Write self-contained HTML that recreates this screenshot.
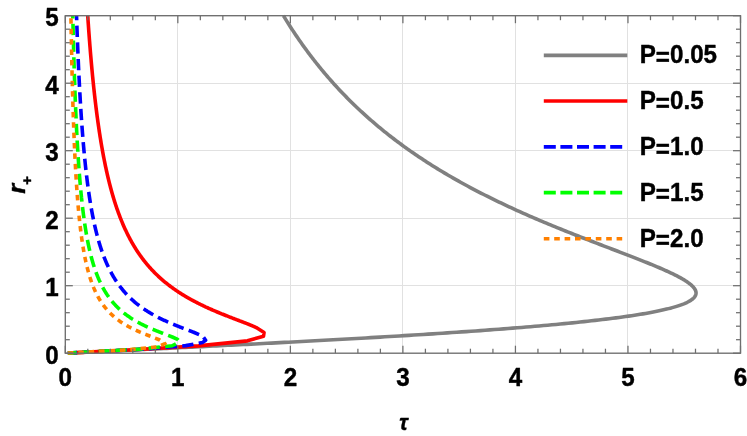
<!DOCTYPE html>
<html><head><meta charset="utf-8"><title>plot</title>
<style>
html,body{margin:0;padding:0;background:#fff;}
body{width:747px;height:436px;overflow:hidden;font-family:"Liberation Sans",sans-serif;}
svg{display:block;will-change:transform;}
text{font-family:"Liberation Sans",sans-serif;font-weight:bold;fill:#000;stroke:#000;stroke-width:0.42px;stroke-linejoin:round;}
</style></head><body>
<svg width="747" height="436" viewBox="0 0 747 436">
<rect x="0" y="0" width="747" height="436" fill="#ffffff"/>
<g stroke="#e1e1e1" stroke-width="1" fill="none"><line x1="177.50" y1="15.70" x2="177.50" y2="353.20"/><line x1="290.50" y1="15.70" x2="290.50" y2="353.20"/><line x1="402.50" y1="15.70" x2="402.50" y2="353.20"/><line x1="515.50" y1="15.70" x2="515.50" y2="353.20"/><line x1="627.50" y1="15.70" x2="627.50" y2="353.20"/><line x1="65.30" y1="285.50" x2="740.50" y2="285.50"/><line x1="65.30" y1="218.50" x2="740.50" y2="218.50"/><line x1="65.30" y1="150.50" x2="740.50" y2="150.50"/><line x1="65.30" y1="83.50" x2="740.50" y2="83.50"/></g>
<g fill="none" stroke-width="3.6" stroke-linejoin="round">
<path d="M283.42,15.70 L284.33,17.18 L285.23,18.66 L286.15,20.14 L287.06,21.61 L287.99,23.08 L288.92,24.54 L289.85,26.00 L290.79,27.46 L291.73,28.92 L292.68,30.37 L293.64,31.81 L294.60,33.26 L295.56,34.70 L296.53,36.13 L297.51,37.57 L298.49,39.00 L299.48,40.42 L300.47,41.84 L301.47,43.26 L302.47,44.68 L303.48,46.09 L304.50,47.50 L305.52,48.90 L306.55,50.30 L307.58,51.70 L308.62,53.10 L309.66,54.49 L310.71,55.87 L311.77,57.26 L312.83,58.64 L313.90,60.01 L314.97,61.39 L316.05,62.76 L317.14,64.12 L318.23,65.48 L319.33,66.84 L320.44,68.20 L321.55,69.55 L322.67,70.90 L323.79,72.24 L324.92,73.59 L326.06,74.92 L327.20,76.26 L328.35,77.59 L329.51,78.92 L330.67,80.24 L331.84,81.56 L333.01,82.88 L334.20,84.19 L335.39,85.50 L336.58,86.81 L337.78,88.11 L338.99,89.41 L340.21,90.70 L341.43,92.00 L342.66,93.29 L343.90,94.57 L345.15,95.85 L346.40,97.13 L347.66,98.41 L348.92,99.68 L350.19,100.95 L351.47,102.21 L352.76,103.47 L354.05,104.73 L355.36,105.99 L356.66,107.24 L357.98,108.48 L359.30,109.73 L360.63,110.97 L361.97,112.20 L363.32,113.44 L364.67,114.67 L366.03,115.89 L367.40,117.12 L368.78,118.34 L370.16,119.55 L371.55,120.77 L372.95,121.98 L374.36,123.18 L375.77,124.38 L377.19,125.58 L378.62,126.78 L380.06,127.97 L381.51,129.16 L382.96,130.35 L384.42,131.53 L385.89,132.71 L387.37,133.88 L388.85,135.05 L390.35,136.22 L391.85,137.39 L393.36,138.55 L394.88,139.70 L396.40,140.86 L397.94,142.01 L399.48,143.16 L401.03,144.30 L402.59,145.44 L404.15,146.58 L405.73,147.71 L407.31,148.85 L408.90,149.97 L410.50,151.10 L412.11,152.22 L413.73,153.33 L415.35,154.45 L416.99,155.56 L418.63,156.66 L420.28,157.77 L421.94,158.87 L423.60,159.96 L425.28,161.06 L426.96,162.15 L428.65,163.23 L430.36,164.32 L432.06,165.40 L433.78,166.47 L435.51,167.55 L437.24,168.62 L438.98,169.68 L440.73,170.75 L442.49,171.80 L444.26,172.86 L446.03,173.91 L447.82,174.96 L449.61,176.01 L451.41,177.05 L453.22,178.09 L455.04,179.13 L456.86,180.16 L458.69,181.19 L460.53,182.22 L462.38,183.24 L464.24,184.26 L466.11,185.27 L467.98,186.29 L469.86,187.29 L471.75,188.30 L473.65,189.30 L475.55,190.30 L477.46,191.30 L479.38,192.29 L481.31,193.28 L483.24,194.27 L485.19,195.25 L487.13,196.23 L489.09,197.20 L491.05,198.18 L493.03,199.15 L495.00,200.11 L496.99,201.07 L498.98,202.03 L500.98,202.99 L502.98,203.94 L504.99,204.89 L507.01,205.84 L509.04,206.78 L511.07,207.72 L513.10,208.66 L515.14,209.59 L517.19,210.52 L519.24,211.44 L521.30,212.37 L523.37,213.29 L525.43,214.20 L527.51,215.12 L529.59,216.03 L531.67,216.93 L533.76,217.84 L535.85,218.74 L537.94,219.63 L540.04,220.53 L542.15,221.42 L544.25,222.30 L546.36,223.19 L548.47,224.07 L550.59,224.94 L552.70,225.82 L554.82,226.69 L556.95,227.56 L559.07,228.42 L561.19,229.28 L563.32,230.14 L565.44,230.99 L567.57,231.84 L569.70,232.69 L571.82,233.54 L573.95,234.38 L576.07,235.22 L578.20,236.05 L580.32,236.88 L582.44,237.71 L584.56,238.53 L586.67,239.36 L588.79,240.18 L590.90,240.99 L593.00,241.80 L595.10,242.61 L597.20,243.42 L599.29,244.22 L601.38,245.02 L603.46,245.82 L605.53,246.61 L607.60,247.40 L609.66,248.19 L611.71,248.97 L613.75,249.75 L615.78,250.53 L617.81,251.30 L619.82,252.07 L621.83,252.84 L623.82,253.60 L625.80,254.36 L627.77,255.12 L629.73,255.87 L631.67,256.63 L633.60,257.37 L635.51,258.12 L637.41,258.86 L639.29,259.60 L641.16,260.34 L643.00,261.07 L644.83,261.80 L646.65,262.52 L648.44,263.25 L650.21,263.97 L651.96,264.68 L653.69,265.40 L655.40,266.11 L657.08,266.81 L658.74,267.52 L660.38,268.22 L661.99,268.92 L663.57,269.61 L665.13,270.30 L666.66,270.99 L668.16,271.67 L669.63,272.36 L671.07,273.04 L672.48,273.71 L673.86,274.38 L675.21,275.05 L676.52,275.72 L677.80,276.38 L679.04,277.04 L680.25,277.70 L681.41,278.35 L682.54,279.00 L683.64,279.65 L684.69,280.30 L685.70,280.94 L686.67,281.58 L687.60,282.21 L688.48,282.84 L689.32,283.47 L690.12,284.10 L690.87,284.72 L691.57,285.34 L692.23,285.96 L692.83,286.57 L693.39,287.18 L693.89,287.79 L694.35,288.40 L694.75,289.00 L695.10,289.60 L695.40,290.19 L695.64,290.78 L695.83,291.37 L695.96,291.96 L696.03,292.54 L696.05,293.12 L696.00,293.70 L695.90,294.27 L695.74,294.84 L695.52,295.41 L695.23,295.98 L694.88,296.54 L694.47,297.10 L694.00,297.65 L693.46,298.21 L692.86,298.76 L692.20,299.30 L691.46,299.85 L690.66,300.39 L689.80,300.92 L688.86,301.46 L687.86,301.99 L686.79,302.52 L685.66,303.04 L684.45,303.57 L683.17,304.09 L681.83,304.60 L680.41,305.12 L678.93,305.63 L677.38,306.14 L675.75,306.64 L674.05,307.14 L672.29,307.64 L670.45,308.14 L668.54,308.63 L666.57,309.12 L664.52,309.61 L662.40,310.09 L660.21,310.57 L657.95,311.05 L655.62,311.52 L653.22,312.00 L650.76,312.47 L648.22,312.93 L645.62,313.40 L642.94,313.86 L640.20,314.31 L637.40,314.77 L634.52,315.22 L631.58,315.67 L628.58,316.11 L625.51,316.56 L622.38,317.00 L619.18,317.43 L615.92,317.87 L612.60,318.30 L609.22,318.73 L605.78,319.15 L602.28,319.58 L598.72,320.00 L595.11,320.41 L591.44,320.83 L587.71,321.24 L583.93,321.65 L580.10,322.05 L576.22,322.45 L572.29,322.85 L568.31,323.25 L564.28,323.64 L560.20,324.04 L556.08,324.42 L551.91,324.81 L547.71,325.19 L543.46,325.57 L539.17,325.95 L534.84,326.32 L530.48,326.69 L526.08,327.06 L521.64,327.43 L517.18,327.79 L512.68,328.15 L508.15,328.51 L503.60,328.86 L499.02,329.21 L494.41,329.56 L489.78,329.91 L485.12,330.25 L480.45,330.59 L475.75,330.93 L471.04,331.26 L466.32,331.59 L461.57,331.92 L456.82,332.25 L452.05,332.57 L447.27,332.89 L442.49,333.21 L437.69,333.53 L432.89,333.84 L428.09,334.15 L423.28,334.46 L418.47,334.76 L413.67,335.06 L408.86,335.36 L404.06,335.66 L399.26,335.95 L394.46,336.24 L389.67,336.53 L384.89,336.82 L380.12,337.10 L375.36,337.38 L370.62,337.66 L365.88,337.93 L361.16,338.20 L356.46,338.47 L351.77,338.74 L347.10,339.00 L342.45,339.26 L337.82,339.52 L333.21,339.78 L328.62,340.03 L324.06,340.28 L319.52,340.53 L315.01,340.77 L310.52,341.02 L306.06,341.26 L301.63,341.49 L297.23,341.73 L292.86,341.96 L288.51,342.19 L284.20,342.42 L279.93,342.64 L275.68,342.86 L271.47,343.08 L267.30,343.30 L263.16,343.51 L259.05,343.72 L254.98,343.93 L250.95,344.14 L246.96,344.34 L243.01,344.54 L239.09,344.74 L235.22,344.94 L231.38,345.13 L227.59,345.32 L223.83,345.51 L220.12,345.70 L216.45,345.88 L212.82,346.06 L209.24,346.24 L205.69,346.41 L202.20,346.59 L198.74,346.76 L195.33,346.93 L191.96,347.09 L188.64,347.26 L185.36,347.42 L182.13,347.57 L178.94,347.73 L175.80,347.88 L172.71,348.04 L169.66,348.18 L166.65,348.33 L163.70,348.47 L160.79,348.62 L157.92,348.75 L155.10,348.89 L152.33,349.03 L149.61,349.16 L146.93,349.29 L144.30,349.41 L141.71,349.54 L139.18,349.66 L136.69,349.78 L134.24,349.90 L131.85,350.01 L129.50,350.13 L127.19,350.24 L124.94,350.35 L122.73,350.45 L120.56,350.56 L118.45,350.66 L116.38,350.76 L114.35,350.85 L112.38,350.95 L110.45,351.04 L108.56,351.13 L106.72,351.22 L104.93,351.31 L103.18,351.39 L101.48,351.47 L99.82,351.55 L98.21,351.63 L96.65,351.70 L95.12,351.78 L93.65,351.85 L92.22,351.91 L90.83,351.98 L89.49,352.05 L88.19,352.11 L86.93,352.17 L85.72,352.23 L84.55,352.28 L83.42,352.33 L82.34,352.39 L81.30,352.44 L80.30,352.48 L79.34,352.53 L78.42,352.57 L77.55,352.62 L76.72,352.66 L75.92,352.69 L75.17,352.73 L74.46,352.76 L73.79,352.79 L73.15,352.83 L72.56,352.85 L72.00,352.88 L71.48,352.90 L71.00,352.93 L70.56,352.95 L70.15,352.97 L69.78,352.99 L69.44,353.00 L69.14,353.02 L68.87,353.03 L68.64,353.04 L68.44,353.05 L68.27,353.06 L68.13,353.07 L68.02,353.07 L67.94,353.07 L67.88,353.08 L67.85,353.08 L67.85,353.08" stroke="#808080"/>
<path d="M87.74,15.70 L87.83,17.07 L87.92,18.44 L88.01,19.80 L88.10,21.16 L88.19,22.52 L88.29,23.87 L88.38,25.22 L88.48,26.57 L88.57,27.92 L88.67,29.26 L88.76,30.59 L88.86,31.93 L88.96,33.26 L89.06,34.59 L89.15,35.91 L89.25,37.23 L89.35,38.55 L89.45,39.87 L89.55,41.18 L89.66,42.49 L89.76,43.79 L89.86,45.09 L89.96,46.39 L90.07,47.69 L90.17,48.98 L90.28,50.27 L90.38,51.55 L90.49,52.83 L90.59,54.11 L90.70,55.39 L90.81,56.66 L90.92,57.93 L91.03,59.20 L91.14,60.46 L91.25,61.72 L91.36,62.97 L91.47,64.23 L91.59,65.48 L91.70,66.72 L91.81,67.97 L91.93,69.21 L92.04,70.44 L92.16,71.68 L92.28,72.91 L92.39,74.13 L92.51,75.36 L92.63,76.58 L92.75,77.79 L92.87,79.01 L92.99,80.22 L93.11,81.43 L93.24,82.63 L93.36,83.83 L93.48,85.03 L93.61,86.22 L93.73,87.42 L93.86,88.60 L93.99,89.79 L94.12,90.97 L94.24,92.15 L94.37,93.32 L94.50,94.50 L94.63,95.67 L94.77,96.83 L94.90,97.99 L95.03,99.15 L95.17,100.31 L95.30,101.46 L95.44,102.61 L95.58,103.76 L95.71,104.90 L95.85,106.04 L95.99,107.18 L96.13,108.31 L96.27,109.44 L96.42,110.57 L96.56,111.70 L96.70,112.82 L96.85,113.93 L96.99,115.05 L97.14,116.16 L97.29,117.27 L97.44,118.37 L97.59,119.48 L97.74,120.58 L97.89,121.67 L98.04,122.76 L98.19,123.85 L98.35,124.94 L98.50,126.02 L98.66,127.10 L98.82,128.18 L98.98,129.25 L99.13,130.32 L99.29,131.39 L99.46,132.45 L99.62,133.51 L99.78,134.57 L99.95,135.63 L100.11,136.68 L100.28,137.73 L100.45,138.77 L100.62,139.81 L100.79,140.85 L100.96,141.89 L101.13,142.92 L101.30,143.95 L101.48,144.98 L101.65,146.00 L101.83,147.02 L102.01,148.03 L102.19,149.05 L102.37,150.06 L102.55,151.07 L102.73,152.07 L102.92,153.07 L103.10,154.07 L103.29,155.07 L103.47,156.06 L103.66,157.05 L103.85,158.03 L104.04,159.01 L104.24,159.99 L104.43,160.97 L104.63,161.94 L104.82,162.91 L105.02,163.88 L105.22,164.84 L105.42,165.80 L105.62,166.76 L105.83,167.72 L106.03,168.67 L106.24,169.62 L106.44,170.56 L106.65,171.50 L106.86,172.44 L107.07,173.38 L107.29,174.31 L107.50,175.24 L107.72,176.17 L107.93,177.09 L108.15,178.01 L108.37,178.93 L108.59,179.84 L108.82,180.75 L109.04,181.66 L109.27,182.57 L109.50,183.47 L109.73,184.37 L109.96,185.26 L110.19,186.16 L110.42,187.05 L110.66,187.93 L110.90,188.82 L111.14,189.70 L111.38,190.58 L111.62,191.45 L111.86,192.32 L112.11,193.19 L112.36,194.05 L112.61,194.92 L112.86,195.78 L113.11,196.63 L113.36,197.49 L113.62,198.34 L113.88,199.18 L114.14,200.03 L114.40,200.87 L114.66,201.71 L114.93,202.54 L115.19,203.37 L115.46,204.20 L115.73,205.03 L116.00,205.85 L116.28,206.67 L116.55,207.49 L116.83,208.30 L117.11,209.11 L117.39,209.92 L117.68,210.72 L117.96,211.53 L118.25,212.32 L118.54,213.12 L118.83,213.91 L119.13,214.70 L119.42,215.49 L119.72,216.27 L120.02,217.05 L120.32,217.83 L120.63,218.60 L120.94,219.38 L121.24,220.15 L121.55,220.91 L121.87,221.67 L122.18,222.43 L122.50,223.19 L122.82,223.94 L123.14,224.69 L123.46,225.44 L123.79,226.19 L124.12,226.93 L124.45,227.67 L124.78,228.40 L125.12,229.14 L125.46,229.87 L125.80,230.59 L126.14,231.32 L126.48,232.04 L126.83,232.76 L127.18,233.47 L127.53,234.18 L127.88,234.89 L128.24,235.60 L128.60,236.30 L128.96,237.00 L129.33,237.70 L129.69,238.40 L130.06,239.09 L130.43,239.78 L130.81,240.46 L131.19,241.14 L131.56,241.82 L131.95,242.50 L132.33,243.18 L132.72,243.85 L133.11,244.51 L133.50,245.18 L133.90,245.84 L134.29,246.50 L134.69,247.16 L135.10,247.81 L135.50,248.46 L135.91,249.11 L136.32,249.76 L136.74,250.40 L137.16,251.04 L137.57,251.67 L138.00,252.31 L138.42,252.94 L138.85,253.56 L139.28,254.19 L139.72,254.81 L140.15,255.43 L140.59,256.04 L141.03,256.66 L141.48,257.27 L141.93,257.88 L142.38,258.48 L142.83,259.08 L143.29,259.68 L143.75,260.28 L144.21,260.87 L144.68,261.46 L145.15,262.05 L145.62,262.63 L146.09,263.21 L146.57,263.79 L147.05,264.37 L147.54,264.94 L148.02,265.51 L148.51,266.08 L149.00,266.64 L149.50,267.20 L150.00,267.76 L150.50,268.32 L151.01,268.87 L151.51,269.42 L152.02,269.97 L152.54,270.51 L153.05,271.05 L153.57,271.59 L154.10,272.13 L154.62,272.66 L155.15,273.19 L155.68,273.72 L156.22,274.25 L156.76,274.77 L157.30,275.29 L157.84,275.80 L158.39,276.32 L158.94,276.83 L159.49,277.34 L160.05,277.84 L160.61,278.34 L161.17,278.84 L161.74,279.34 L162.30,279.84 L162.87,280.33 L163.45,280.82 L164.02,281.30 L164.60,281.78 L165.19,282.27 L165.77,282.74 L166.36,283.22 L166.95,283.69 L167.54,284.16 L168.14,284.63 L168.74,285.09 L169.34,285.55 L169.95,286.01 L170.55,286.46 L171.16,286.92 L171.78,287.37 L172.39,287.81 L173.01,288.26 L173.63,288.70 L174.25,289.14 L174.88,289.58 L175.50,290.01 L176.13,290.44 L176.77,290.87 L177.40,291.30 L178.04,291.72 L178.67,292.14 L179.32,292.56 L179.96,292.97 L180.60,293.38 L181.25,293.79 L181.90,294.20 L182.55,294.60 L183.20,295.00 L183.86,295.40 L184.51,295.80 L185.17,296.19 L185.83,296.58 L186.49,296.97 L187.16,297.36 L187.82,297.74 L188.48,298.12 L189.15,298.50 L189.82,298.87 L190.49,299.24 L191.16,299.61 L191.83,299.98 L192.50,300.34 L193.17,300.70 L193.85,301.06 L194.52,301.42 L195.20,301.77 L195.87,302.12 L196.55,302.47 L197.22,302.82 L197.90,303.16 L198.58,303.50 L199.25,303.84 L199.93,304.17 L200.61,304.51 L201.28,304.84 L201.96,305.16 L202.64,305.49 L203.31,305.81 L203.99,306.13 L204.66,306.45 L205.33,306.76 L206.00,307.08 L206.68,307.38 L207.35,307.69 L208.01,308.00 L208.68,308.30 L209.35,308.60 L210.01,308.89 L210.68,309.19 L211.34,309.48 L212.00,309.77 L212.65,310.05 L213.31,310.34 L213.96,310.62 L214.61,310.90 L215.26,311.17 L215.91,311.45 L216.55,311.72 L217.19,311.99 L217.83,312.25 L218.46,312.52 L219.09,312.78 L219.72,313.04 L220.35,313.29 L220.97,313.55 L221.59,313.80 L222.20,314.05 L222.81,314.29 L223.42,314.54 L224.02,314.78 L224.62,315.02 L225.21,315.25 L225.80,315.49 L226.39,315.72 L226.97,315.95 L227.55,316.18 L228.12,316.40 L228.69,316.62 L229.25,316.84 L229.81,317.06 L230.36,317.27 L230.91,317.48 L231.45,317.69 L231.99,317.90 L232.52,318.11 L233.05,318.31 L233.57,318.51 L234.08,318.71 L234.59,318.90 L235.10,319.10 L235.59,319.29 L236.09,319.47 L236.57,319.66 L237.05,319.84 L237.53,320.02 L238.00,320.20 L238.46,320.38 L238.91,320.55 L239.36,320.73 L239.81,320.89 L240.24,321.06 L240.67,321.23 L241.10,321.39 L241.52,321.55 L241.93,321.71 L242.33,321.86 L242.73,322.02 L243.12,322.17 L243.51,322.32 L243.89,322.46 L244.26,322.61 L244.63,322.75 L244.99,322.89 L245.34,323.03 L245.69,323.16 L246.03,323.29 L246.36,323.42 L246.69,323.55 L247.01,323.68 L247.33,323.80 L247.63,323.93 L247.94,324.05 L248.23,324.16 L248.52,324.28 L248.80,324.39 L249.08,324.50 L249.35,324.61 L249.62,324.72 L249.87,324.82 L250.13,324.92 L250.37,325.03 L250.61,325.12 L250.85,325.22 L251.07,325.31 L251.30,325.41 L251.51,325.49 L251.72,325.58 L251.93,325.67 L252.13,325.75 L252.32,325.83 L252.51,325.91 L252.69,325.99 L252.87,326.06 L253.04,326.14 L253.21,326.21 L253.37,326.28 L253.53,326.35 L253.68,326.41 L253.82,326.47 L253.96,326.54 L254.10,326.59 L254.23,326.65 L254.36,326.71 L254.48,326.76 L254.60,326.81 L254.71,326.86 L254.82,326.91 L254.92,326.96 L255.02,327.00 L255.11,327.04 L255.20,327.08 L255.29,327.12 L255.37,327.16 L255.45,327.19 L255.52,327.23 L255.59,327.26 L255.65,327.29 L255.72,327.32 L255.77,327.34 L255.83,327.37 L255.88,327.39 L255.92,327.41 L255.97,327.43 L256.00,327.45 L256.04,327.46 L256.07,327.48 L256.10,327.49 L256.13,327.50 L256.15,327.52 L256.17,327.52 L256.18,327.53 L256.20,327.54 L256.21,327.54 L256.22,327.55 L256.22,327.55 L256.22,327.55 L256.22,327.55 L264.05,332.48 L263.50,336.19 L247.44,340.85 L198.50,345.91 L133.85,349.82 L67.85,353.08" stroke="#ff0000"/>
<path d="M76.54,15.70 L76.58,17.09 L76.63,18.48 L76.68,19.86 L76.72,21.24 L76.77,22.62 L76.82,24.00 L76.87,25.37 L76.91,26.74 L76.96,28.10 L77.01,29.46 L77.06,30.82 L77.11,32.17 L77.16,33.53 L77.21,34.87 L77.26,36.22 L77.31,37.56 L77.36,38.90 L77.41,40.23 L77.46,41.56 L77.52,42.89 L77.57,44.22 L77.62,45.54 L77.67,46.86 L77.73,48.17 L77.78,49.48 L77.83,50.79 L77.89,52.10 L77.94,53.40 L78.00,54.69 L78.05,55.99 L78.11,57.28 L78.16,58.57 L78.22,59.85 L78.28,61.14 L78.33,62.41 L78.39,63.69 L78.45,64.96 L78.51,66.23 L78.56,67.50 L78.62,68.76 L78.68,70.02 L78.74,71.27 L78.80,72.52 L78.86,73.77 L78.92,75.02 L78.98,76.26 L79.04,77.50 L79.10,78.73 L79.17,79.97 L79.23,81.20 L79.29,82.42 L79.35,83.64 L79.42,84.86 L79.48,86.08 L79.55,87.29 L79.61,88.50 L79.68,89.71 L79.74,90.91 L79.81,92.11 L79.87,93.31 L79.94,94.50 L80.01,95.69 L80.08,96.88 L80.14,98.06 L80.21,99.24 L80.28,100.42 L80.35,101.59 L80.42,102.76 L80.49,103.93 L80.56,105.09 L80.63,106.25 L80.71,107.41 L80.78,108.57 L80.85,109.72 L80.92,110.86 L81.00,112.01 L81.07,113.15 L81.15,114.29 L81.22,115.42 L81.30,116.55 L81.37,117.68 L81.45,118.81 L81.53,119.93 L81.61,121.05 L81.68,122.16 L81.76,123.28 L81.84,124.39 L81.92,125.49 L82.00,126.59 L82.08,127.69 L82.16,128.79 L82.25,129.88 L82.33,130.97 L82.41,132.06 L82.49,133.14 L82.58,134.22 L82.66,135.30 L82.75,136.37 L82.83,137.44 L82.92,138.51 L83.01,139.57 L83.10,140.64 L83.18,141.69 L83.27,142.75 L83.36,143.80 L83.45,144.85 L83.54,145.89 L83.63,146.93 L83.73,147.97 L83.82,149.01 L83.91,150.04 L84.01,151.07 L84.10,152.09 L84.20,153.12 L84.29,154.14 L84.39,155.15 L84.49,156.17 L84.58,157.18 L84.68,158.18 L84.78,159.19 L84.88,160.19 L84.98,161.19 L85.08,162.18 L85.19,163.17 L85.29,164.16 L85.39,165.14 L85.50,166.12 L85.60,167.10 L85.71,168.08 L85.81,169.05 L85.92,170.02 L86.03,170.98 L86.14,171.95 L86.25,172.91 L86.36,173.86 L86.47,174.82 L86.58,175.77 L86.70,176.71 L86.81,177.66 L86.92,178.60 L87.04,179.54 L87.16,180.47 L87.27,181.40 L87.39,182.33 L87.51,183.25 L87.63,184.18 L87.75,185.10 L87.87,186.01 L87.99,186.92 L88.12,187.83 L88.24,188.74 L88.36,189.64 L88.49,190.54 L88.62,191.44 L88.75,192.33 L88.87,193.22 L89.00,194.11 L89.13,195.00 L89.27,195.88 L89.40,196.76 L89.53,197.63 L89.67,198.50 L89.80,199.37 L89.94,200.24 L90.08,201.10 L90.22,201.96 L90.36,202.82 L90.50,203.67 L90.64,204.52 L90.78,205.37 L90.92,206.22 L91.07,207.06 L91.22,207.90 L91.36,208.73 L91.51,209.56 L91.66,210.39 L91.81,211.22 L91.96,212.04 L92.12,212.86 L92.27,213.68 L92.43,214.49 L92.58,215.30 L92.74,216.11 L92.90,216.92 L93.06,217.72 L93.22,218.52 L93.38,219.31 L93.55,220.10 L93.71,220.89 L93.88,221.68 L94.05,222.46 L94.21,223.24 L94.38,224.02 L94.56,224.79 L94.73,225.57 L94.90,226.33 L95.08,227.10 L95.26,227.86 L95.43,228.62 L95.61,229.38 L95.80,230.13 L95.98,230.88 L96.16,231.63 L96.35,232.37 L96.53,233.11 L96.72,233.85 L96.91,234.58 L97.10,235.32 L97.30,236.05 L97.49,236.77 L97.69,237.49 L97.88,238.21 L98.08,238.93 L98.28,239.65 L98.48,240.36 L98.69,241.06 L98.89,241.77 L99.10,242.47 L99.31,243.17 L99.52,243.87 L99.73,244.56 L99.94,245.25 L100.16,245.94 L100.38,246.62 L100.59,247.30 L100.81,247.98 L101.04,248.66 L101.26,249.33 L101.49,250.00 L101.71,250.67 L101.94,251.33 L102.17,251.99 L102.41,252.65 L102.64,253.30 L102.88,253.95 L103.11,254.60 L103.35,255.25 L103.60,255.89 L103.84,256.53 L104.09,257.17 L104.33,257.80 L104.58,258.43 L104.84,259.06 L105.09,259.69 L105.35,260.31 L105.60,260.93 L105.86,261.54 L106.12,262.16 L106.39,262.77 L106.65,263.38 L106.92,263.98 L107.19,264.58 L107.46,265.18 L107.74,265.78 L108.01,266.37 L108.29,266.96 L108.57,267.55 L108.86,268.13 L109.14,268.72 L109.43,269.29 L109.72,269.87 L110.01,270.44 L110.30,271.01 L110.60,271.58 L110.90,272.14 L111.20,272.71 L111.50,273.26 L111.81,273.82 L112.12,274.37 L112.43,274.92 L112.74,275.47 L113.05,276.02 L113.37,276.56 L113.69,277.10 L114.01,277.63 L114.34,278.16 L114.66,278.69 L114.99,279.22 L115.32,279.75 L115.66,280.27 L116.00,280.79 L116.33,281.30 L116.68,281.81 L117.02,282.32 L117.37,282.83 L117.72,283.34 L118.07,283.84 L118.42,284.34 L118.78,284.83 L119.14,285.33 L119.50,285.82 L119.86,286.30 L120.23,286.79 L120.60,287.27 L120.97,287.75 L121.35,288.23 L121.73,288.70 L122.11,289.17 L122.49,289.64 L122.87,290.10 L123.26,290.57 L123.65,291.03 L124.04,291.48 L124.44,291.94 L124.84,292.39 L125.24,292.84 L125.64,293.28 L126.05,293.73 L126.46,294.17 L126.87,294.60 L127.28,295.04 L127.70,295.47 L128.12,295.90 L128.54,296.33 L128.96,296.75 L129.39,297.17 L129.82,297.59 L130.25,298.01 L130.68,298.42 L131.12,298.83 L131.56,299.24 L132.00,299.64 L132.44,300.04 L132.89,300.44 L133.34,300.84 L133.79,301.23 L134.24,301.62 L134.70,302.01 L135.15,302.40 L135.61,302.78 L136.08,303.16 L136.54,303.54 L137.01,303.91 L137.48,304.29 L137.95,304.66 L138.42,305.02 L138.90,305.39 L139.38,305.75 L139.86,306.11 L140.34,306.46 L140.82,306.82 L141.31,307.17 L141.79,307.52 L142.28,307.86 L142.77,308.21 L143.26,308.55 L143.76,308.88 L144.25,309.22 L144.75,309.55 L145.25,309.88 L145.75,310.21 L146.25,310.53 L146.75,310.85 L147.26,311.17 L147.76,311.49 L148.27,311.80 L148.78,312.12 L149.29,312.42 L149.80,312.73 L150.31,313.03 L150.82,313.34 L151.33,313.63 L151.84,313.93 L152.35,314.22 L152.87,314.51 L153.38,314.80 L153.89,315.09 L154.41,315.37 L154.92,315.65 L155.44,315.93 L155.95,316.20 L156.47,316.48 L156.98,316.75 L157.50,317.01 L158.01,317.28 L158.52,317.54 L159.03,317.80 L159.55,318.06 L160.06,318.32 L160.57,318.57 L161.08,318.82 L161.59,319.07 L162.09,319.31 L162.60,319.55 L163.10,319.79 L163.61,320.03 L164.11,320.27 L164.61,320.50 L165.10,320.73 L165.60,320.96 L166.09,321.18 L166.59,321.40 L167.08,321.62 L167.56,321.84 L168.05,322.06 L168.53,322.27 L169.01,322.48 L169.49,322.69 L169.96,322.89 L170.43,323.10 L170.90,323.30 L171.37,323.50 L171.83,323.69 L172.29,323.89 L172.75,324.08 L173.20,324.27 L173.65,324.45 L174.09,324.64 L174.53,324.82 L174.97,325.00 L175.40,325.17 L175.83,325.35 L176.25,325.52 L176.68,325.69 L177.09,325.86 L177.50,326.02 L177.91,326.18 L178.31,326.34 L178.71,326.50 L179.11,326.66 L179.49,326.81 L179.88,326.96 L180.26,327.11 L180.63,327.26 L181.00,327.40 L181.37,327.54 L181.72,327.68 L182.08,327.82 L182.43,327.95 L182.77,328.09 L183.11,328.22 L183.44,328.35 L183.77,328.47 L184.09,328.60 L184.41,328.72 L184.72,328.84 L185.02,328.95 L185.32,329.07 L185.62,329.18 L185.91,329.29 L186.19,329.40 L186.47,329.51 L186.74,329.61 L187.01,329.71 L187.27,329.81 L187.52,329.91 L187.77,330.00 L188.02,330.10 L188.25,330.19 L188.49,330.28 L188.71,330.36 L188.94,330.45 L189.15,330.53 L189.36,330.61 L189.57,330.69 L189.77,330.77 L189.96,330.84 L190.15,330.91 L190.33,330.98 L190.51,331.05 L190.68,331.12 L190.85,331.18 L191.01,331.25 L191.17,331.31 L191.32,331.36 L191.46,331.42 L191.60,331.47 L191.74,331.53 L191.87,331.58 L192.00,331.63 L192.12,331.67 L192.23,331.72 L192.34,331.76 L192.45,331.80 L192.55,331.84 L192.64,331.88 L192.74,331.91 L192.82,331.95 L192.90,331.98 L192.98,332.01 L193.05,332.04 L193.12,332.06 L193.19,332.09 L193.25,332.11 L193.30,332.13 L193.35,332.15 L193.40,332.17 L193.44,332.19 L193.48,332.20 L193.51,332.22 L193.54,332.23 L193.57,332.24 L193.59,332.25 L193.61,332.26 L193.63,332.26 L193.64,332.27 L193.65,332.27 L193.66,332.27 L193.66,332.27 L193.66,332.27 L202.82,336.32 L205.63,340.24 L202.39,342.60 L185.72,345.64 L143.11,349.15 L67.85,353.08" stroke="#0000ff" stroke-dasharray="11.3 5.37" stroke-dashoffset="6.7"/>
<path d="M72.79,15.70 L72.83,17.09 L72.86,18.49 L72.89,19.87 L72.92,21.26 L72.95,22.64 L72.98,24.02 L73.02,25.39 L73.05,26.76 L73.08,28.13 L73.11,29.49 L73.15,30.85 L73.18,32.21 L73.21,33.56 L73.25,34.91 L73.28,36.26 L73.31,37.61 L73.35,38.95 L73.38,40.28 L73.42,41.62 L73.45,42.95 L73.49,44.28 L73.52,45.60 L73.56,46.92 L73.59,48.24 L73.63,49.55 L73.66,50.87 L73.70,52.17 L73.74,53.48 L73.77,54.78 L73.81,56.08 L73.85,57.37 L73.88,58.66 L73.92,59.95 L73.96,61.23 L74.00,62.51 L74.04,63.79 L74.07,65.07 L74.11,66.34 L74.15,67.61 L74.19,68.87 L74.23,70.13 L74.27,71.39 L74.31,72.64 L74.35,73.90 L74.39,75.14 L74.43,76.39 L74.47,77.63 L74.51,78.87 L74.56,80.10 L74.60,81.34 L74.64,82.56 L74.68,83.79 L74.73,85.01 L74.77,86.23 L74.81,87.45 L74.85,88.66 L74.90,89.87 L74.94,91.07 L74.99,92.27 L75.03,93.47 L75.08,94.67 L75.12,95.86 L75.17,97.05 L75.21,98.24 L75.26,99.42 L75.30,100.60 L75.35,101.77 L75.40,102.95 L75.45,104.12 L75.49,105.28 L75.54,106.45 L75.59,107.61 L75.64,108.76 L75.69,109.92 L75.74,111.07 L75.79,112.21 L75.83,113.36 L75.88,114.50 L75.94,115.64 L75.99,116.77 L76.04,117.90 L76.09,119.03 L76.14,120.15 L76.19,121.27 L76.25,122.39 L76.30,123.51 L76.35,124.62 L76.40,125.73 L76.46,126.83 L76.51,127.93 L76.57,129.03 L76.62,130.13 L76.68,131.22 L76.73,132.31 L76.79,133.39 L76.85,134.47 L76.90,135.55 L76.96,136.63 L77.02,137.70 L77.08,138.77 L77.14,139.84 L77.19,140.90 L77.25,141.96 L77.31,143.02 L77.37,144.07 L77.43,145.12 L77.50,146.17 L77.56,147.21 L77.62,148.25 L77.68,149.29 L77.74,150.33 L77.81,151.36 L77.87,152.39 L77.94,153.41 L78.00,154.43 L78.06,155.45 L78.13,156.47 L78.20,157.48 L78.26,158.49 L78.33,159.49 L78.40,160.50 L78.46,161.50 L78.53,162.49 L78.60,163.48 L78.67,164.47 L78.74,165.46 L78.81,166.45 L78.88,167.43 L78.95,168.40 L79.03,169.38 L79.10,170.35 L79.17,171.32 L79.24,172.28 L79.32,173.24 L79.39,174.20 L79.47,175.16 L79.54,176.11 L79.62,177.06 L79.70,178.00 L79.77,178.95 L79.85,179.89 L79.93,180.82 L80.01,181.75 L80.09,182.69 L80.17,183.61 L80.25,184.54 L80.33,185.46 L80.41,186.37 L80.49,187.29 L80.58,188.20 L80.66,189.11 L80.75,190.01 L80.83,190.92 L80.92,191.81 L81.00,192.71 L81.09,193.60 L81.18,194.49 L81.27,195.38 L81.36,196.26 L81.44,197.14 L81.54,198.02 L81.63,198.89 L81.72,199.77 L81.81,200.63 L81.90,201.50 L82.00,202.36 L82.09,203.22 L82.19,204.07 L82.28,204.93 L82.38,205.78 L82.48,206.62 L82.58,207.47 L82.67,208.31 L82.77,209.14 L82.88,209.98 L82.98,210.81 L83.08,211.64 L83.18,212.46 L83.29,213.28 L83.39,214.10 L83.50,214.92 L83.60,215.73 L83.71,216.54 L83.82,217.34 L83.92,218.15 L84.03,218.95 L84.14,219.75 L84.26,220.54 L84.37,221.33 L84.48,222.12 L84.60,222.90 L84.71,223.69 L84.83,224.46 L84.94,225.24 L85.06,226.01 L85.18,226.78 L85.30,227.55 L85.42,228.31 L85.54,229.07 L85.66,229.83 L85.79,230.59 L85.91,231.34 L86.04,232.09 L86.16,232.83 L86.29,233.58 L86.42,234.31 L86.55,235.05 L86.68,235.78 L86.81,236.52 L86.94,237.24 L87.07,237.97 L87.21,238.69 L87.35,239.41 L87.48,240.12 L87.62,240.84 L87.76,241.55 L87.90,242.25 L88.04,242.96 L88.18,243.66 L88.33,244.35 L88.47,245.05 L88.62,245.74 L88.77,246.43 L88.91,247.11 L89.06,247.80 L89.21,248.48 L89.37,249.15 L89.52,249.83 L89.67,250.50 L89.83,251.17 L89.99,251.83 L90.15,252.49 L90.31,253.15 L90.47,253.81 L90.63,254.46 L90.79,255.11 L90.96,255.76 L91.12,256.40 L91.29,257.04 L91.46,257.68 L91.63,258.32 L91.80,258.95 L91.98,259.58 L92.15,260.21 L92.33,260.83 L92.51,261.45 L92.69,262.07 L92.87,262.68 L93.05,263.30 L93.23,263.90 L93.42,264.51 L93.60,265.11 L93.79,265.71 L93.98,266.31 L94.17,266.91 L94.37,267.50 L94.56,268.09 L94.76,268.67 L94.95,269.26 L95.15,269.84 L95.35,270.41 L95.56,270.99 L95.76,271.56 L95.97,272.13 L96.17,272.69 L96.38,273.25 L96.59,273.81 L96.81,274.37 L97.02,274.93 L97.24,275.48 L97.46,276.02 L97.68,276.57 L97.90,277.11 L98.12,277.65 L98.35,278.19 L98.57,278.72 L98.80,279.25 L99.03,279.78 L99.26,280.31 L99.50,280.83 L99.73,281.35 L99.97,281.87 L100.21,282.38 L100.45,282.89 L100.70,283.40 L100.94,283.91 L101.19,284.41 L101.44,284.91 L101.69,285.41 L101.95,285.90 L102.20,286.39 L102.46,286.88 L102.72,287.37 L102.98,287.85 L103.24,288.33 L103.51,288.81 L103.78,289.28 L104.04,289.75 L104.32,290.22 L104.59,290.69 L104.87,291.15 L105.14,291.61 L105.42,292.07 L105.71,292.53 L105.99,292.98 L106.28,293.43 L106.56,293.88 L106.85,294.32 L107.15,294.76 L107.44,295.20 L107.74,295.63 L108.04,296.07 L108.34,296.50 L108.64,296.93 L108.94,297.35 L109.25,297.77 L109.56,298.19 L109.87,298.61 L110.19,299.02 L110.50,299.43 L110.82,299.84 L111.14,300.25 L111.46,300.65 L111.79,301.05 L112.11,301.45 L112.44,301.84 L112.77,302.23 L113.10,302.62 L113.44,303.01 L113.77,303.39 L114.11,303.77 L114.45,304.15 L114.80,304.53 L115.14,304.90 L115.49,305.27 L115.84,305.64 L116.19,306.00 L116.54,306.37 L116.90,306.73 L117.25,307.08 L117.61,307.44 L117.97,307.79 L118.33,308.14 L118.70,308.49 L119.06,308.83 L119.43,309.17 L119.80,309.51 L120.17,309.84 L120.55,310.18 L120.92,310.51 L121.30,310.84 L121.67,311.16 L122.05,311.48 L122.43,311.80 L122.82,312.12 L123.20,312.44 L123.59,312.75 L123.97,313.06 L124.36,313.36 L124.75,313.67 L125.14,313.97 L125.53,314.27 L125.93,314.57 L126.32,314.86 L126.72,315.15 L127.11,315.44 L127.51,315.73 L127.91,316.01 L128.31,316.29 L128.71,316.57 L129.11,316.84 L129.51,317.12 L129.92,317.39 L130.32,317.66 L130.72,317.92 L131.13,318.19 L131.53,318.45 L131.93,318.71 L132.34,318.96 L132.74,319.21 L133.15,319.46 L133.55,319.71 L133.96,319.96 L134.36,320.20 L134.77,320.44 L135.17,320.68 L135.58,320.92 L135.98,321.15 L136.39,321.38 L136.79,321.61 L137.19,321.83 L137.59,322.06 L137.99,322.28 L138.39,322.49 L138.79,322.71 L139.19,322.92 L139.58,323.13 L139.98,323.34 L140.37,323.55 L140.77,323.75 L141.16,323.95 L141.55,324.15 L141.93,324.35 L142.32,324.54 L142.70,324.73 L143.09,324.92 L143.47,325.11 L143.84,325.29 L144.22,325.48 L144.59,325.66 L144.96,325.83 L145.33,326.01 L145.70,326.18 L146.06,326.35 L146.42,326.52 L146.78,326.68 L147.14,326.85 L147.49,327.01 L147.84,327.16 L148.18,327.32 L148.52,327.47 L148.86,327.63 L149.20,327.77 L149.53,327.92 L149.86,328.07 L150.19,328.21 L150.51,328.35 L150.83,328.49 L151.14,328.62 L151.45,328.75 L151.76,328.88 L152.06,329.01 L152.36,329.14 L152.65,329.26 L152.94,329.38 L153.23,329.50 L153.51,329.62 L153.79,329.74 L154.06,329.85 L154.33,329.96 L154.59,330.07 L154.85,330.18 L155.11,330.28 L155.36,330.38 L155.60,330.48 L155.85,330.58 L156.08,330.67 L156.31,330.77 L156.54,330.86 L156.76,330.95 L156.98,331.04 L157.19,331.12 L157.40,331.20 L157.61,331.28 L157.80,331.36 L158.00,331.44 L158.19,331.51 L158.37,331.59 L158.55,331.66 L158.72,331.72 L158.89,331.79 L159.05,331.86 L159.21,331.92 L159.37,331.98 L159.52,332.04 L159.66,332.09 L159.80,332.15 L159.94,332.20 L160.07,332.25 L160.19,332.30 L160.31,332.35 L160.43,332.39 L160.54,332.43 L160.64,332.48 L160.75,332.51 L160.84,332.55 L160.93,332.59 L161.02,332.62 L161.10,332.65 L161.18,332.68 L161.26,332.71 L161.33,332.74 L161.39,332.76 L161.45,332.79 L161.51,332.81 L161.56,332.83 L161.61,332.85 L161.65,332.86 L161.69,332.88 L161.72,332.89 L161.75,332.90 L161.78,332.91 L161.80,332.92 L161.82,332.93 L161.84,332.94 L161.85,332.94 L161.86,332.95 L161.87,332.95 L161.87,332.95 L161.87,332.95 L172.31,337.00 L177.60,339.43 L178.96,341.05 L178.06,342.67 L172.13,345.77 L140.01,349.15 L67.85,353.08" stroke="#00ff00" stroke-dasharray="11.3 5.37" stroke-dashoffset="8.5"/>
<path d="M70.92,15.70 L70.95,17.10 L70.97,18.50 L70.99,19.90 L71.02,21.29 L71.04,22.68 L71.06,24.07 L71.09,25.45 L71.11,26.83 L71.14,28.21 L71.16,29.58 L71.19,30.95 L71.21,32.32 L71.24,33.68 L71.26,35.04 L71.29,36.39 L71.31,37.75 L71.34,39.10 L71.37,40.44 L71.39,41.78 L71.42,43.12 L71.44,44.46 L71.47,45.79 L71.50,47.12 L71.53,48.45 L71.55,49.77 L71.58,51.09 L71.61,52.41 L71.63,53.72 L71.66,55.03 L71.69,56.33 L71.72,57.64 L71.75,58.94 L71.78,60.23 L71.80,61.52 L71.83,62.81 L71.86,64.10 L71.89,65.38 L71.92,66.66 L71.95,67.94 L71.98,69.21 L72.01,70.48 L72.04,71.75 L72.07,73.01 L72.10,74.27 L72.13,75.52 L72.16,76.78 L72.19,78.03 L72.22,79.27 L72.26,80.52 L72.29,81.75 L72.32,82.99 L72.35,84.22 L72.38,85.45 L72.42,86.68 L72.45,87.90 L72.48,89.12 L72.51,90.34 L72.55,91.55 L72.58,92.76 L72.62,93.97 L72.65,95.17 L72.68,96.37 L72.72,97.57 L72.75,98.76 L72.79,99.95 L72.82,101.14 L72.86,102.32 L72.89,103.50 L72.93,104.68 L72.97,105.86 L73.00,107.03 L73.04,108.19 L73.08,109.36 L73.11,110.52 L73.15,111.68 L73.19,112.83 L73.23,113.98 L73.26,115.13 L73.30,116.27 L73.34,117.41 L73.38,118.55 L73.42,119.69 L73.46,120.82 L73.50,121.95 L73.54,123.07 L73.58,124.19 L73.62,125.31 L73.66,126.43 L73.70,127.54 L73.74,128.65 L73.78,129.75 L73.83,130.86 L73.87,131.96 L73.91,133.05 L73.95,134.14 L74.00,135.23 L74.04,136.32 L74.08,137.40 L74.13,138.48 L74.17,139.56 L74.22,140.63 L74.26,141.70 L74.31,142.77 L74.35,143.83 L74.40,144.89 L74.44,145.95 L74.49,147.00 L74.54,148.05 L74.58,149.10 L74.63,150.14 L74.68,151.19 L74.73,152.22 L74.78,153.26 L74.83,154.29 L74.87,155.32 L74.92,156.34 L74.97,157.36 L75.02,158.38 L75.08,159.40 L75.13,160.41 L75.18,161.42 L75.23,162.43 L75.28,163.43 L75.33,164.43 L75.39,165.42 L75.44,166.42 L75.49,167.41 L75.55,168.39 L75.60,169.38 L75.66,170.36 L75.71,171.34 L75.77,172.31 L75.83,173.28 L75.88,174.25 L75.94,175.21 L76.00,176.17 L76.05,177.13 L76.11,178.09 L76.17,179.04 L76.23,179.99 L76.29,180.93 L76.35,181.88 L76.41,182.81 L76.47,183.75 L76.53,184.68 L76.60,185.61 L76.66,186.54 L76.72,187.46 L76.78,188.38 L76.85,189.30 L76.91,190.22 L76.98,191.13 L77.04,192.03 L77.11,192.94 L77.17,193.84 L77.24,194.74 L77.31,195.63 L77.38,196.53 L77.44,197.42 L77.51,198.30 L77.58,199.18 L77.65,200.06 L77.72,200.94 L77.79,201.81 L77.87,202.68 L77.94,203.55 L78.01,204.42 L78.08,205.28 L78.16,206.13 L78.23,206.99 L78.31,207.84 L78.38,208.69 L78.46,209.54 L78.54,210.38 L78.61,211.22 L78.69,212.05 L78.77,212.89 L78.85,213.72 L78.93,214.54 L79.01,215.37 L79.09,216.19 L79.18,217.01 L79.26,217.82 L79.34,218.63 L79.43,219.44 L79.51,220.25 L79.60,221.05 L79.68,221.85 L79.77,222.64 L79.86,223.44 L79.94,224.23 L80.03,225.01 L80.12,225.80 L80.21,226.58 L80.30,227.36 L80.40,228.13 L80.49,228.90 L80.58,229.67 L80.68,230.44 L80.77,231.20 L80.87,231.96 L80.96,232.71 L81.06,233.47 L81.16,234.22 L81.26,234.97 L81.36,235.71 L81.46,236.45 L81.56,237.19 L81.66,237.93 L81.77,238.66 L81.87,239.39 L81.97,240.11 L82.08,240.84 L82.19,241.56 L82.29,242.27 L82.40,242.99 L82.51,243.70 L82.62,244.41 L82.73,245.11 L82.85,245.81 L82.96,246.51 L83.07,247.21 L83.19,247.90 L83.30,248.59 L83.42,249.28 L83.54,249.96 L83.66,250.64 L83.78,251.32 L83.90,252.00 L84.02,252.67 L84.14,253.34 L84.27,254.00 L84.39,254.67 L84.52,255.33 L84.65,255.99 L84.78,256.64 L84.91,257.29 L85.04,257.94 L85.17,258.58 L85.30,259.23 L85.44,259.87 L85.57,260.50 L85.71,261.14 L85.85,261.77 L85.99,262.39 L86.13,263.02 L86.27,263.64 L86.41,264.26 L86.55,264.88 L86.70,265.49 L86.84,266.10 L86.99,266.71 L87.14,267.31 L87.29,267.91 L87.44,268.51 L87.60,269.10 L87.75,269.70 L87.91,270.29 L88.06,270.87 L88.22,271.46 L88.38,272.04 L88.54,272.62 L88.70,273.19 L88.87,273.76 L89.03,274.33 L89.20,274.90 L89.37,275.46 L89.54,276.02 L89.71,276.58 L89.88,277.13 L90.05,277.69 L90.23,278.24 L90.41,278.78 L90.59,279.32 L90.77,279.86 L90.95,280.40 L91.13,280.94 L91.32,281.47 L91.50,282.00 L91.69,282.52 L91.88,283.05 L92.07,283.57 L92.26,284.08 L92.46,284.60 L92.65,285.11 L92.85,285.62 L93.05,286.12 L93.25,286.63 L93.46,287.13 L93.66,287.63 L93.87,288.12 L94.08,288.61 L94.29,289.10 L94.50,289.59 L94.71,290.07 L94.93,290.55 L95.14,291.03 L95.36,291.50 L95.58,291.98 L95.81,292.44 L96.03,292.91 L96.26,293.37 L96.49,293.84 L96.72,294.29 L96.95,294.75 L97.18,295.20 L97.42,295.65 L97.66,296.10 L97.90,296.54 L98.14,296.98 L98.38,297.42 L98.63,297.86 L98.87,298.29 L99.12,298.72 L99.38,299.15 L99.63,299.57 L99.88,299.99 L100.14,300.41 L100.40,300.83 L100.66,301.24 L100.93,301.65 L101.19,302.06 L101.46,302.47 L101.73,302.87 L102.00,303.27 L102.27,303.67 L102.55,304.06 L102.83,304.45 L103.11,304.84 L103.39,305.23 L103.67,305.61 L103.96,305.99 L104.24,306.37 L104.53,306.75 L104.82,307.12 L105.12,307.49 L105.41,307.86 L105.71,308.22 L106.01,308.58 L106.31,308.94 L106.61,309.30 L106.92,309.65 L107.23,310.01 L107.54,310.35 L107.85,310.70 L108.16,311.04 L108.47,311.38 L108.79,311.72 L109.11,312.06 L109.43,312.39 L109.75,312.72 L110.08,313.05 L110.40,313.37 L110.73,313.69 L111.06,314.01 L111.39,314.33 L111.72,314.64 L112.06,314.95 L112.39,315.26 L112.73,315.57 L113.07,315.87 L113.41,316.17 L113.75,316.47 L114.09,316.77 L114.44,317.06 L114.78,317.35 L115.13,317.64 L115.48,317.93 L115.83,318.21 L116.18,318.49 L116.53,318.77 L116.89,319.04 L117.24,319.31 L117.60,319.58 L117.95,319.85 L118.31,320.12 L118.67,320.38 L119.03,320.64 L119.39,320.90 L119.75,321.15 L120.11,321.40 L120.47,321.65 L120.83,321.90 L121.20,322.14 L121.56,322.39 L121.92,322.63 L122.28,322.86 L122.65,323.10 L123.01,323.33 L123.38,323.56 L123.74,323.79 L124.10,324.01 L124.47,324.23 L124.83,324.45 L125.19,324.67 L125.55,324.88 L125.92,325.10 L126.28,325.31 L126.64,325.51 L127.00,325.72 L127.36,325.92 L127.71,326.12 L128.07,326.32 L128.43,326.51 L128.78,326.71 L129.13,326.90 L129.49,327.08 L129.84,327.27 L130.18,327.45 L130.53,327.63 L130.88,327.81 L131.22,327.99 L131.56,328.16 L131.90,328.33 L132.24,328.50 L132.58,328.67 L132.91,328.83 L133.24,328.99 L133.57,329.15 L133.89,329.31 L134.22,329.46 L134.54,329.62 L134.86,329.77 L135.17,329.91 L135.48,330.06 L135.79,330.20 L136.10,330.34 L136.40,330.48 L136.70,330.62 L137.00,330.75 L137.29,330.88 L137.58,331.01 L137.87,331.14 L138.15,331.26 L138.43,331.39 L138.70,331.51 L138.97,331.63 L139.24,331.74 L139.50,331.85 L139.76,331.97 L140.02,332.08 L140.27,332.18 L140.52,332.29 L140.76,332.39 L141.00,332.49 L141.23,332.59 L141.46,332.68 L141.69,332.78 L141.91,332.87 L142.13,332.96 L142.34,333.05 L142.55,333.13 L142.75,333.22 L142.95,333.30 L143.14,333.38 L143.33,333.45 L143.52,333.53 L143.70,333.60 L143.87,333.67 L144.04,333.74 L144.21,333.81 L144.37,333.87 L144.53,333.94 L144.68,334.00 L144.83,334.06 L144.97,334.11 L145.11,334.17 L145.24,334.22 L145.37,334.27 L145.49,334.32 L145.61,334.37 L145.72,334.41 L145.83,334.46 L145.94,334.50 L146.04,334.54 L146.13,334.57 L146.23,334.61 L146.31,334.64 L146.39,334.68 L146.47,334.71 L146.55,334.74 L146.61,334.76 L146.68,334.79 L146.74,334.81 L146.79,334.83 L146.84,334.85 L146.89,334.87 L146.93,334.89 L146.97,334.90 L147.01,334.92 L147.04,334.93 L147.07,334.94 L147.09,334.95 L147.11,334.96 L147.13,334.96 L147.14,334.97 L147.15,334.97 L147.15,334.97 L147.16,334.97 L147.16,334.97 L159.24,339.70 L165.03,343.62 L157.72,346.79 L128.11,349.82 L67.85,353.08" stroke="#ff8000" stroke-dasharray="5.5 4.9" stroke-dashoffset="7.8"/>
</g>
<g stroke="#6e6e6e" stroke-width="1.25" fill="none"><line x1="65.30" y1="353.20" x2="65.30" y2="345.70"/><line x1="65.30" y1="15.70" x2="65.30" y2="23.20"/><line x1="87.81" y1="353.20" x2="87.81" y2="348.70"/><line x1="87.81" y1="15.70" x2="87.81" y2="20.20"/><line x1="110.31" y1="353.20" x2="110.31" y2="348.70"/><line x1="110.31" y1="15.70" x2="110.31" y2="20.20"/><line x1="132.82" y1="353.20" x2="132.82" y2="348.70"/><line x1="132.82" y1="15.70" x2="132.82" y2="20.20"/><line x1="155.33" y1="353.20" x2="155.33" y2="348.70"/><line x1="155.33" y1="15.70" x2="155.33" y2="20.20"/><line x1="177.83" y1="353.20" x2="177.83" y2="345.70"/><line x1="177.83" y1="15.70" x2="177.83" y2="23.20"/><line x1="200.34" y1="353.20" x2="200.34" y2="348.70"/><line x1="200.34" y1="15.70" x2="200.34" y2="20.20"/><line x1="222.85" y1="353.20" x2="222.85" y2="348.70"/><line x1="222.85" y1="15.70" x2="222.85" y2="20.20"/><line x1="245.35" y1="353.20" x2="245.35" y2="348.70"/><line x1="245.35" y1="15.70" x2="245.35" y2="20.20"/><line x1="267.86" y1="353.20" x2="267.86" y2="348.70"/><line x1="267.86" y1="15.70" x2="267.86" y2="20.20"/><line x1="290.37" y1="353.20" x2="290.37" y2="345.70"/><line x1="290.37" y1="15.70" x2="290.37" y2="23.20"/><line x1="312.87" y1="353.20" x2="312.87" y2="348.70"/><line x1="312.87" y1="15.70" x2="312.87" y2="20.20"/><line x1="335.38" y1="353.20" x2="335.38" y2="348.70"/><line x1="335.38" y1="15.70" x2="335.38" y2="20.20"/><line x1="357.89" y1="353.20" x2="357.89" y2="348.70"/><line x1="357.89" y1="15.70" x2="357.89" y2="20.20"/><line x1="380.39" y1="353.20" x2="380.39" y2="348.70"/><line x1="380.39" y1="15.70" x2="380.39" y2="20.20"/><line x1="402.90" y1="353.20" x2="402.90" y2="345.70"/><line x1="402.90" y1="15.70" x2="402.90" y2="23.20"/><line x1="425.41" y1="353.20" x2="425.41" y2="348.70"/><line x1="425.41" y1="15.70" x2="425.41" y2="20.20"/><line x1="447.91" y1="353.20" x2="447.91" y2="348.70"/><line x1="447.91" y1="15.70" x2="447.91" y2="20.20"/><line x1="470.42" y1="353.20" x2="470.42" y2="348.70"/><line x1="470.42" y1="15.70" x2="470.42" y2="20.20"/><line x1="492.93" y1="353.20" x2="492.93" y2="348.70"/><line x1="492.93" y1="15.70" x2="492.93" y2="20.20"/><line x1="515.43" y1="353.20" x2="515.43" y2="345.70"/><line x1="515.43" y1="15.70" x2="515.43" y2="23.20"/><line x1="537.94" y1="353.20" x2="537.94" y2="348.70"/><line x1="537.94" y1="15.70" x2="537.94" y2="20.20"/><line x1="560.45" y1="353.20" x2="560.45" y2="348.70"/><line x1="560.45" y1="15.70" x2="560.45" y2="20.20"/><line x1="582.95" y1="353.20" x2="582.95" y2="348.70"/><line x1="582.95" y1="15.70" x2="582.95" y2="20.20"/><line x1="605.46" y1="353.20" x2="605.46" y2="348.70"/><line x1="605.46" y1="15.70" x2="605.46" y2="20.20"/><line x1="627.97" y1="353.20" x2="627.97" y2="345.70"/><line x1="627.97" y1="15.70" x2="627.97" y2="23.20"/><line x1="650.47" y1="353.20" x2="650.47" y2="348.70"/><line x1="650.47" y1="15.70" x2="650.47" y2="20.20"/><line x1="672.98" y1="353.20" x2="672.98" y2="348.70"/><line x1="672.98" y1="15.70" x2="672.98" y2="20.20"/><line x1="695.49" y1="353.20" x2="695.49" y2="348.70"/><line x1="695.49" y1="15.70" x2="695.49" y2="20.20"/><line x1="717.99" y1="353.20" x2="717.99" y2="348.70"/><line x1="717.99" y1="15.70" x2="717.99" y2="20.20"/><line x1="740.50" y1="353.20" x2="740.50" y2="345.70"/><line x1="740.50" y1="15.70" x2="740.50" y2="23.20"/><line x1="65.30" y1="353.20" x2="72.80" y2="353.20"/><line x1="740.50" y1="353.20" x2="733.00" y2="353.20"/><line x1="65.30" y1="339.70" x2="69.80" y2="339.70"/><line x1="740.50" y1="339.70" x2="736.00" y2="339.70"/><line x1="65.30" y1="326.20" x2="69.80" y2="326.20"/><line x1="740.50" y1="326.20" x2="736.00" y2="326.20"/><line x1="65.30" y1="312.70" x2="69.80" y2="312.70"/><line x1="740.50" y1="312.70" x2="736.00" y2="312.70"/><line x1="65.30" y1="299.20" x2="69.80" y2="299.20"/><line x1="740.50" y1="299.20" x2="736.00" y2="299.20"/><line x1="65.30" y1="285.70" x2="72.80" y2="285.70"/><line x1="740.50" y1="285.70" x2="733.00" y2="285.70"/><line x1="65.30" y1="272.20" x2="69.80" y2="272.20"/><line x1="740.50" y1="272.20" x2="736.00" y2="272.20"/><line x1="65.30" y1="258.70" x2="69.80" y2="258.70"/><line x1="740.50" y1="258.70" x2="736.00" y2="258.70"/><line x1="65.30" y1="245.20" x2="69.80" y2="245.20"/><line x1="740.50" y1="245.20" x2="736.00" y2="245.20"/><line x1="65.30" y1="231.70" x2="69.80" y2="231.70"/><line x1="740.50" y1="231.70" x2="736.00" y2="231.70"/><line x1="65.30" y1="218.20" x2="72.80" y2="218.20"/><line x1="740.50" y1="218.20" x2="733.00" y2="218.20"/><line x1="65.30" y1="204.70" x2="69.80" y2="204.70"/><line x1="740.50" y1="204.70" x2="736.00" y2="204.70"/><line x1="65.30" y1="191.20" x2="69.80" y2="191.20"/><line x1="740.50" y1="191.20" x2="736.00" y2="191.20"/><line x1="65.30" y1="177.70" x2="69.80" y2="177.70"/><line x1="740.50" y1="177.70" x2="736.00" y2="177.70"/><line x1="65.30" y1="164.20" x2="69.80" y2="164.20"/><line x1="740.50" y1="164.20" x2="736.00" y2="164.20"/><line x1="65.30" y1="150.70" x2="72.80" y2="150.70"/><line x1="740.50" y1="150.70" x2="733.00" y2="150.70"/><line x1="65.30" y1="137.20" x2="69.80" y2="137.20"/><line x1="740.50" y1="137.20" x2="736.00" y2="137.20"/><line x1="65.30" y1="123.70" x2="69.80" y2="123.70"/><line x1="740.50" y1="123.70" x2="736.00" y2="123.70"/><line x1="65.30" y1="110.20" x2="69.80" y2="110.20"/><line x1="740.50" y1="110.20" x2="736.00" y2="110.20"/><line x1="65.30" y1="96.70" x2="69.80" y2="96.70"/><line x1="740.50" y1="96.70" x2="736.00" y2="96.70"/><line x1="65.30" y1="83.20" x2="72.80" y2="83.20"/><line x1="740.50" y1="83.20" x2="733.00" y2="83.20"/><line x1="65.30" y1="69.70" x2="69.80" y2="69.70"/><line x1="740.50" y1="69.70" x2="736.00" y2="69.70"/><line x1="65.30" y1="56.20" x2="69.80" y2="56.20"/><line x1="740.50" y1="56.20" x2="736.00" y2="56.20"/><line x1="65.30" y1="42.70" x2="69.80" y2="42.70"/><line x1="740.50" y1="42.70" x2="736.00" y2="42.70"/><line x1="65.30" y1="29.20" x2="69.80" y2="29.20"/><line x1="740.50" y1="29.20" x2="736.00" y2="29.20"/><line x1="65.30" y1="15.70" x2="72.80" y2="15.70"/><line x1="740.50" y1="15.70" x2="733.00" y2="15.70"/></g>
<rect x="65.30" y="15.70" width="675.20" height="337.50" fill="none" stroke="#6e6e6e" stroke-width="1.35"/>
<text transform="translate(65.30,386.00) scale(1,1.08)" font-size="24.2" text-anchor="middle">0</text>
<text transform="translate(177.83,386.00) scale(1,1.08)" font-size="24.2" text-anchor="middle">1</text>
<text transform="translate(290.37,386.00) scale(1,1.08)" font-size="24.2" text-anchor="middle">2</text>
<text transform="translate(402.90,386.00) scale(1,1.08)" font-size="24.2" text-anchor="middle">3</text>
<text transform="translate(515.43,386.00) scale(1,1.08)" font-size="24.2" text-anchor="middle">4</text>
<text transform="translate(627.97,386.00) scale(1,1.08)" font-size="24.2" text-anchor="middle">5</text>
<text transform="translate(740.50,386.00) scale(1,1.08)" font-size="24.2" text-anchor="middle">6</text>
<text transform="translate(58.70,363.90) scale(1,1.08)" font-size="24.2" text-anchor="end">0</text>
<text transform="translate(58.70,296.40) scale(1,1.08)" font-size="24.2" text-anchor="end">1</text>
<text transform="translate(58.70,228.90) scale(1,1.08)" font-size="24.2" text-anchor="end">2</text>
<text transform="translate(58.70,161.40) scale(1,1.08)" font-size="24.2" text-anchor="end">3</text>
<text transform="translate(58.70,93.90) scale(1,1.08)" font-size="24.2" text-anchor="end">4</text>
<text transform="translate(58.70,26.40) scale(1,1.08)" font-size="24.2" text-anchor="end">5</text>
<text transform="translate(403.60,430.30) scale(1,1.08)" font-size="21" text-anchor="middle" font-style="italic">τ</text>
<g transform="translate(25.9,194) scale(1,1.08) rotate(-90)"><text x="0.2" y="-0.6" font-size="23.5" font-style="italic">r</text><text x="8.35" y="5.95" font-size="14">+</text></g>
<line x1="543.8" y1="55.40" x2="627.3" y2="55.40" stroke="#808080" stroke-width="3.6"/>
<text transform="translate(639.70,63.30) scale(1,1.08)" font-size="24.2" text-anchor="start">P<tspan dy="2.6">=</tspan><tspan dy="-2.6">0.05</tspan></text>
<line x1="543.8" y1="101.00" x2="627.3" y2="101.00" stroke="#ff0000" stroke-width="3.6"/>
<text transform="translate(639.70,108.90) scale(1,1.08)" font-size="24.2" text-anchor="start">P<tspan dy="2.6">=</tspan><tspan dy="-2.6">0.5</tspan></text>
<line x1="543.8" y1="146.90" x2="622.3" y2="146.90" stroke="#0000ff" stroke-width="3.6" stroke-dasharray="12 4.6"/>
<text transform="translate(639.70,154.80) scale(1,1.08)" font-size="24.2" text-anchor="start">P<tspan dy="2.6">=</tspan><tspan dy="-2.6">1.0</tspan></text>
<line x1="543.8" y1="192.60" x2="622.3" y2="192.60" stroke="#00ff00" stroke-width="3.6" stroke-dasharray="12 4.6"/>
<text transform="translate(639.70,200.50) scale(1,1.08)" font-size="24.2" text-anchor="start">P<tspan dy="2.6">=</tspan><tspan dy="-2.6">1.5</tspan></text>
<line x1="543.8" y1="238.70" x2="622.3" y2="238.70" stroke="#ff8000" stroke-width="3.6" stroke-dasharray="5.6 4.8"/>
<text transform="translate(639.70,246.60) scale(1,1.08)" font-size="24.2" text-anchor="start">P<tspan dy="2.6">=</tspan><tspan dy="-2.6">2.0</tspan></text>
</svg>
</body></html>
